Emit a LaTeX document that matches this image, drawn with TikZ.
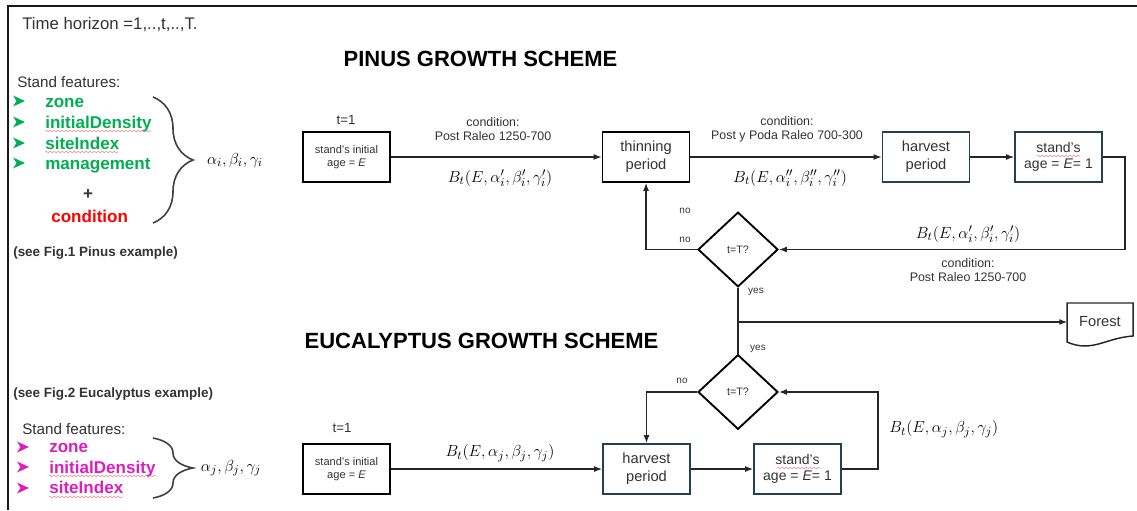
\documentclass[tikz,border=0pt]{standalone}
\usepackage{fontspec}
\setmainfont{Liberation Sans}
\usetikzlibrary{arrows.meta,shapes.geometric,decorations.pathreplacing,decorations.pathmorphing,calc}

\definecolor{txt}{RGB}{51,51,51}
\definecolor{featgreen}{RGB}{0,176,80}
\definecolor{condred}{RGB}{255,0,0}
\definecolor{eucpink}{RGB}{220,30,190}
\definecolor{slate}{RGB}{38,64,80}
\definecolor{spell}{RGB}{235,90,90}

\tikzset{
  stepbox/.style={draw=black, line width=1.4pt, minimum width=65.25pt, minimum height=37.5pt,
    inner sep=0pt, align=center, text=txt},
  slatebox/.style={stepbox, draw=slate},
  small/.style={font=\fontsize{8.3}{9.4}\selectfont},
  mid/.style={font=\fontsize{11}{13.5}\selectfont},
  agef/.style={font=\fontsize{10.5}{12.5}\selectfont},
  dia/.style={diamond, draw=black, line width=1.4pt, minimum width=60pt, minimum height=56pt,
    inner sep=0pt, aspect=1.07, text=txt, font=\fontsize{8.1}{9}\selectfont},
  arr/.style={-{Latex[length=6pt,width=4.5pt]}, line width=0.9pt, draw=black!85},
  wire/.style={line width=0.9pt, draw=black!85},
  cond/.style={font=\fontsize{9.3}{10.5}\selectfont, text=txt, align=center, inner sep=0pt},
  tiny/.style={font=\fontsize{7.5}{9}\selectfont, text=txt, inner sep=0pt},
  formula/.style={font=\fontsize{13}{15}\selectfont, text=black, inner sep=0pt},
  jformula/.style={formula, font=\fontsize{12.5}{14}\selectfont},
  heading/.style={font=\fontsize{16.5}{18}\selectfont\bfseries, text=black, inner sep=0pt, anchor=base},
  plain/.style={text=txt, inner sep=0pt, anchor=base west},
  item/.style={font=\fontsize{12.8}{14}\selectfont\bfseries, inner sep=0pt, anchor=base west},
  brace/.style={decorate, decoration={brace, amplitude=30pt}, line width=1.2pt, draw=black!75},
  squiggle/.style={decorate, decoration={snake, amplitude=0.5pt, segment length=3pt},
    draw=spell, line width=0.45pt, opacity=0.7},
  bullet/.pic={\fill (-6,-5.5) -- (6,0) -- (-6,5.5) -- (-2.5,0) -- cycle;}
}

\begin{document}
\begin{tikzpicture}[x=0.75pt, y=-0.75pt]
\useasboundingbox (0,0) rectangle (1137,510);

% outer frame
\draw[line width=1.5pt, draw=black!90] (8,510) -- (8,6) -- (1137,6);

\node[plain, font=\fontsize{12.6}{14}\selectfont] (horizon) at (22,30) {Time horizon =1,..,t,..,T.};

% ---------- Pinus ----------
\node[heading] (ptitle) at (480.5,67) {PINUS GROWTH SCHEME};

\node[plain, font=\fontsize{11.4}{13}\selectfont] (pfeat) at (17,88) {Stand features:};
\foreach \y in {101,122,143,163} \pic[color=featgreen] at (19,\y) {bullet};
\node[item, text=featgreen] (pzone) at (45,107) {zone};
\node[item, text=featgreen] (pdens) at (45,128) {initialDensity};
\node[item, text=featgreen] (psite) at (45,149) {siteIndex};
\node[item, text=featgreen] (pmgmt) at (45,169) {management};
\node[font=\fontsize{12.8}{14}\selectfont\bfseries, text=txt, inner sep=0pt] (pplus) at (88,194) {+};
\node[item, text=condred] (pcond) at (51,222) {condition};
\draw[squiggle] (45,131) -- (151,131);
\draw[squiggle] (45,152) -- (118,152);
\draw[brace] (153,97) -- (153,223);
\node[formula] (pparams) at (235,160) {$\alpha_i,\beta_i,\gamma_i$};
\node[plain, anchor=base west, font=\fontsize{10.1}{12}\selectfont\bfseries] (pref) at (13,256) {(see Fig.1 Pinus example)};

\node[font=\fontsize{10}{12}\selectfont, text=txt, inner sep=0pt] (pt1) at (346,120) {t=1};
\node[stepbox, small] (pstart) at (346.5,157) {stand's initial\\age = \textit{E}};
\node[stepbox, mid] (pthin) at (646,157) {thinning\\period};
\node[slatebox, mid] (pharv) at (926,157) {harvest\\period};
\node[slatebox, agef] (page) at (1058.5,157) {stand's\\age = \textit{E}= 1};
\draw[squiggle] (1037,156) -- (1080,156);

\draw[arr] (pstart) -- (pthin);
\draw[arr] (pthin) -- (pharv);
\draw[arr] (pharv) -- (page);

\node[cond] (pc1) at (493,129) {condition:\\Post Raleo 1250-700};
\node[formula] (pb1) at (500,178) {$B_t(E,\alpha_i',\beta_i',\gamma_i')$};
\node[cond] (pc2) at (787,129) {condition:\\Post y Poda Raleo 700-300};
\node[formula] (pb2) at (790,178) {$B_t(E,\alpha_i'',\beta_i'',\gamma_i'')$};

\node[dia] (pdec) at (738,249.5) {t=T?};
\draw[arr] (page.east) -- ++(22,0) |- (pdec.east);
\draw[arr] (pdec.west) -| (pthin.south);
\node[formula] (pb3) at (968,234) {$B_t(E,\alpha_i',\beta_i',\gamma_i')$};
\node[cond] (pc3) at (968,270) {condition:\\Post Raleo 1250-700};
\node[tiny] (pno1) at (685,211) {no};
\node[tiny] (pno2) at (685,240) {no};
\node[tiny] (pyes) at (756,292) {yes};

% ---------- exit to forest ----------
\node[minimum width=48.75pt, minimum height=28.5pt, inner sep=0pt, text=txt,
      font=\fontsize{11}{13}\selectfont] (forest) at (1100,322) {Forest};
\draw[line width=1.1pt, draw=black!85] (1067,303) -- (1133,303) -- (1133,336)
  .. controls (1105,338) and (1092,353) .. (1067,342) -- cycle;

% ---------- Eucalyptus ----------
\node[heading] (etitle) at (481.5,348) {EUCALYPTUS GROWTH SCHEME};
\node[dia] (edec) at (738,392) {t=T?};
\draw[wire] (pdec.south) -- (edec.north);
\coordinate (fork) at (pdec.south |- forest.west);
\draw[arr] (fork) -- (forest.west);
\node[tiny] (eyes) at (758,349) {yes};
\node[tiny] (eno) at (682,381) {no};

\node[plain, anchor=base west, font=\fontsize{10.1}{12}\selectfont\bfseries] (eref) at (13,397) {(see Fig.2 Eucalyptus example)};
\node[plain, font=\fontsize{11.4}{13}\selectfont] (efeat) at (22,434) {Stand features:};
\foreach \y in {447,467,488} \pic[color=eucpink] at (23,\y) {bullet};
\node[item, text=eucpink] (ezone) at (49,452) {zone};
\node[item, text=eucpink] (edens) at (49,473) {initialDensity};
\node[item, text=eucpink] (esite) at (49,493) {siteIndex};
\draw[squiggle] (49,476) -- (156,476);
\draw[squiggle] (49,497) -- (123,497);
\draw[brace] (153,438) -- (153,498);
\node[formula] (eparams) at (231,468) {$\alpha_j,\beta_j,\gamma_j$};

\node[font=\fontsize{10}{12}\selectfont, text=txt, inner sep=0pt] (et1) at (342,428) {t=1};
\node[stepbox, small] (estart) at (346.5,469) {stand's initial\\age = \textit{E}};
\node[slatebox, mid] (eharv) at (646.5,469) {harvest\\period};
\node[slatebox, agef] (eage) at (797.5,469) {stand's\\age = \textit{E}= 1};
\draw[squiggle] (777,468) -- (820,468);

\draw[arr] (estart) -- (eharv);
\draw[arr] (eharv) -- (eage);
\draw[arr] (eage.east) -- ++(36,0) |- (edec.east);
\draw[arr] (edec.west) -| (eharv.north);
\node[jformula] (eb1) at (500,453) {$B_t(E,\alpha_j,\beta_j,\gamma_j)$};
\node[jformula, anchor=west] (eb2) at (889,429) {$B_t(E,\alpha_j,\beta_j,\gamma_j)$};
\end{tikzpicture}
\end{document}
